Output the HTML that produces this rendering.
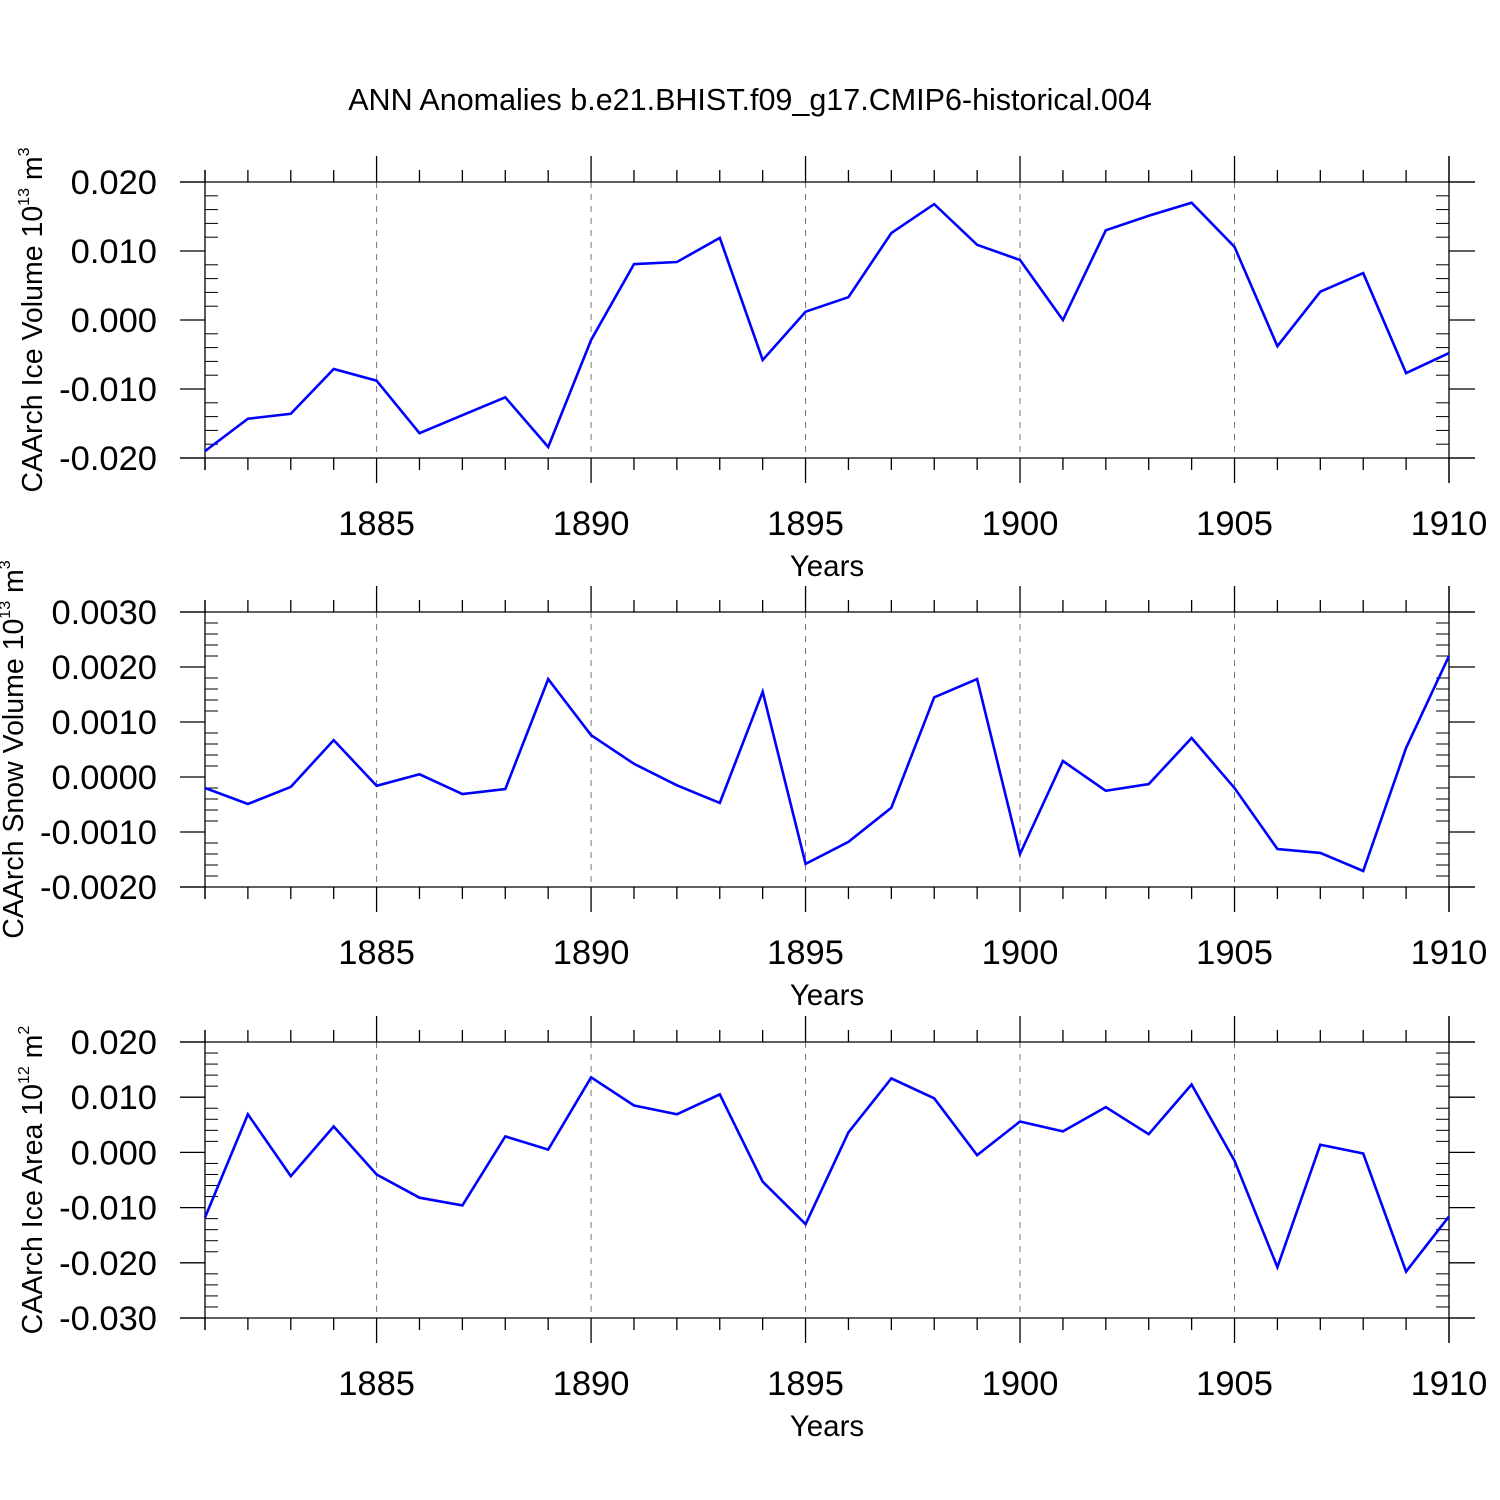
<!DOCTYPE html>
<html><head><meta charset="utf-8"><style>
html,body{margin:0;padding:0;background:#fff;}
svg{display:block;font-family:"Liberation Sans",Arial,sans-serif;}
</style></head><body>
<svg id="chart" width="1500" height="1500" xmlns="http://www.w3.org/2000/svg">
<rect width="1500" height="1500" fill="#fff"/>
<text x="750" y="110" font-size="30.5" text-anchor="middle">ANN Anomalies b.e21.BHIST.f09_g17.CMIP6-historical.004</text>
</svg>
<script>
const years = [1881,1882,1883,1884,1885,1886,1887,1888,1889,1890,1891,1892,1893,1894,1895,1896,1897,1898,1899,1900,1901,1902,1903,1904,1905,1906,1907,1908,1909,1910];
const iceVolume = [-0.0190,-0.0143,-0.0136,-0.0071,-0.0088,-0.0164,-0.0138,-0.0112,-0.0184,-0.0029,0.0081,0.0084,0.0119,-0.0058,0.0012,0.0033,0.0126,0.0168,0.0109,0.0087,0.0000,0.0130,0.0151,0.0170,0.0106,-0.0038,0.0041,0.0068,-0.0077,-0.0048];
const snowVolume = [-0.00020,-0.00049,-0.00018,0.00067,-0.00016,0.00005,-0.00031,-0.00022,0.00178,0.00076,0.00024,-0.00015,-0.00047,0.00155,-0.00158,-0.00118,-0.00056,0.00145,0.00178,-0.00140,0.00029,-0.00025,-0.00013,0.00071,-0.00020,-0.00131,-0.00138,-0.00171,0.00053,0.00220];
const iceArea = [-0.0118,0.0069,-0.0043,0.0047,-0.0040,-0.0082,-0.0096,0.0029,0.0005,0.0136,0.0085,0.0069,0.0105,-0.0053,-0.0130,0.0036,0.0134,0.0098,-0.0005,0.0056,0.0038,0.0082,0.0033,0.0123,-0.0015,-0.0208,0.0014,-0.0002,-0.0216,-0.0116];
const xTickLabels = ["1885","1890","1895","1900","1905","1910"];
const yTicks1 = ["0.020","0.010","0.000","-0.010","-0.020"];
const yTicks2 = ["0.0030","0.0020","0.0010","0.0000","-0.0010","-0.0020"];
const yTicks3 = ["0.020","0.010","0.000","-0.010","-0.020","-0.030"];

const NS="http://www.w3.org/2000/svg";
const svg=document.getElementById('chart');
const X0=205,X1=1449,XMIN=1881,XMAX=1910;
const xs=v=>X0+(v-XMIN)/(XMAX-XMIN)*(X1-X0);
function mk(tag,attrs,parent){const e=document.createElementNS(NS,tag);for(const k in attrs)e.setAttribute(k,attrs[k]);(parent||svg).appendChild(e);return e;}

const panels=[
 {top:182,bot:458,data:iceVolume,ticks:yTicks1,min:-0.02,max:0.02,name:'ice-volume',tx:42,title:'CAArch Ice Volume 10',exp:'13',unit:' m',uexp:'3'},
 {top:612,bot:887,data:snowVolume,ticks:yTicks2,min:-0.002,max:0.003,name:'snow-volume',tx:23,title:'CAArch Snow Volume 10',exp:'13',unit:' m',uexp:'3'},
 {top:1042,bot:1318,data:iceArea,ticks:yTicks3,min:-0.03,max:0.02,name:'ice-area',tx:42,title:'CAArch Ice Area 10',exp:'12',unit:' m',uexp:'2'}
];
panels.forEach(p=>{
 const g=mk('g',{});
 
 
 const ys=v=>p.bot-(v-p.min)/(p.max-p.min)*(p.bot-p.top);
 const line=(x1,y1,x2,y2,extra)=>{const l=mk('line',Object.assign({x1,y1,x2,y2,stroke:'#000','stroke-width':1.3},extra||{}),g);return l;};
 for(let y=1885;y<1910;y+=5){const l=line(xs(y),p.top,xs(y),p.bot,{stroke:'#777','stroke-dasharray':'6,6','stroke-width':1});
  
  }
 line(180,p.top,1475,p.top);line(180,p.bot,1475,p.bot);
 line(X0,p.top-12,X0,p.bot+12);line(X1,p.top-26,X1,p.bot+25);
 for(let y=XMIN;y<=XMAX;y++){const maj=y%5===0;const x=xs(y);
  line(x,p.top-(maj?26:12),x,p.top);line(x,p.bot,x,p.bot+(maj?25:12));}
 xTickLabels.forEach(t=>{const tx=mk('text',{x:xs(+t),y:p.bot+77,'font-size':34.5,'text-anchor':'middle'},g);tx.textContent=t;
  
  });
 const xt=mk('text',{x:827,y:p.bot+118,'font-size':29.5,'text-anchor':'middle'},g);xt.textContent='Years';
 
 
 const n=p.ticks.length;const step=(p.max-p.min)/(n-1);
 for(let i=0;i<n;i++){const v=p.max-i*step;const y=ys(v);
  line(180,y,X0,y);line(X1,y,1475,y);
  const t=mk('text',{x:157,y:y+12,'font-size':34.5,'text-anchor':'end'},g);t.textContent=p.ticks[i];
  
  
  if(i<n-1)for(let k=1;k<5;k++){const yy=ys(v-step*k/5);line(X0,yy,X0+13,yy,{'stroke-width':1});line(X1-13,yy,X1,yy,{'stroke-width':1});}}
 const cy=(p.top+p.bot)/2;
 const tt=mk('text',{x:p.tx,y:cy,'font-size':28.5,'text-anchor':'middle',transform:`rotate(-90 ${p.tx} ${cy})`},g);
 
 
 tt.innerHTML=`${p.title}<tspan font-size="16" dy="-13">${p.exp}</tspan><tspan dy="13">${p.unit}</tspan><tspan font-size="16" dy="-13">${p.uexp}</tspan>`;
 const pts=years.map((y,i)=>xs(y).toFixed(1)+','+ys(p.data[i]).toFixed(1)).join(' ');
 const pl=mk('polyline',{points:pts,fill:'none',stroke:'#0000ff','stroke-width':2.6,'stroke-linejoin':'miter'},g);
 
 
});
</script>
</body></html>
